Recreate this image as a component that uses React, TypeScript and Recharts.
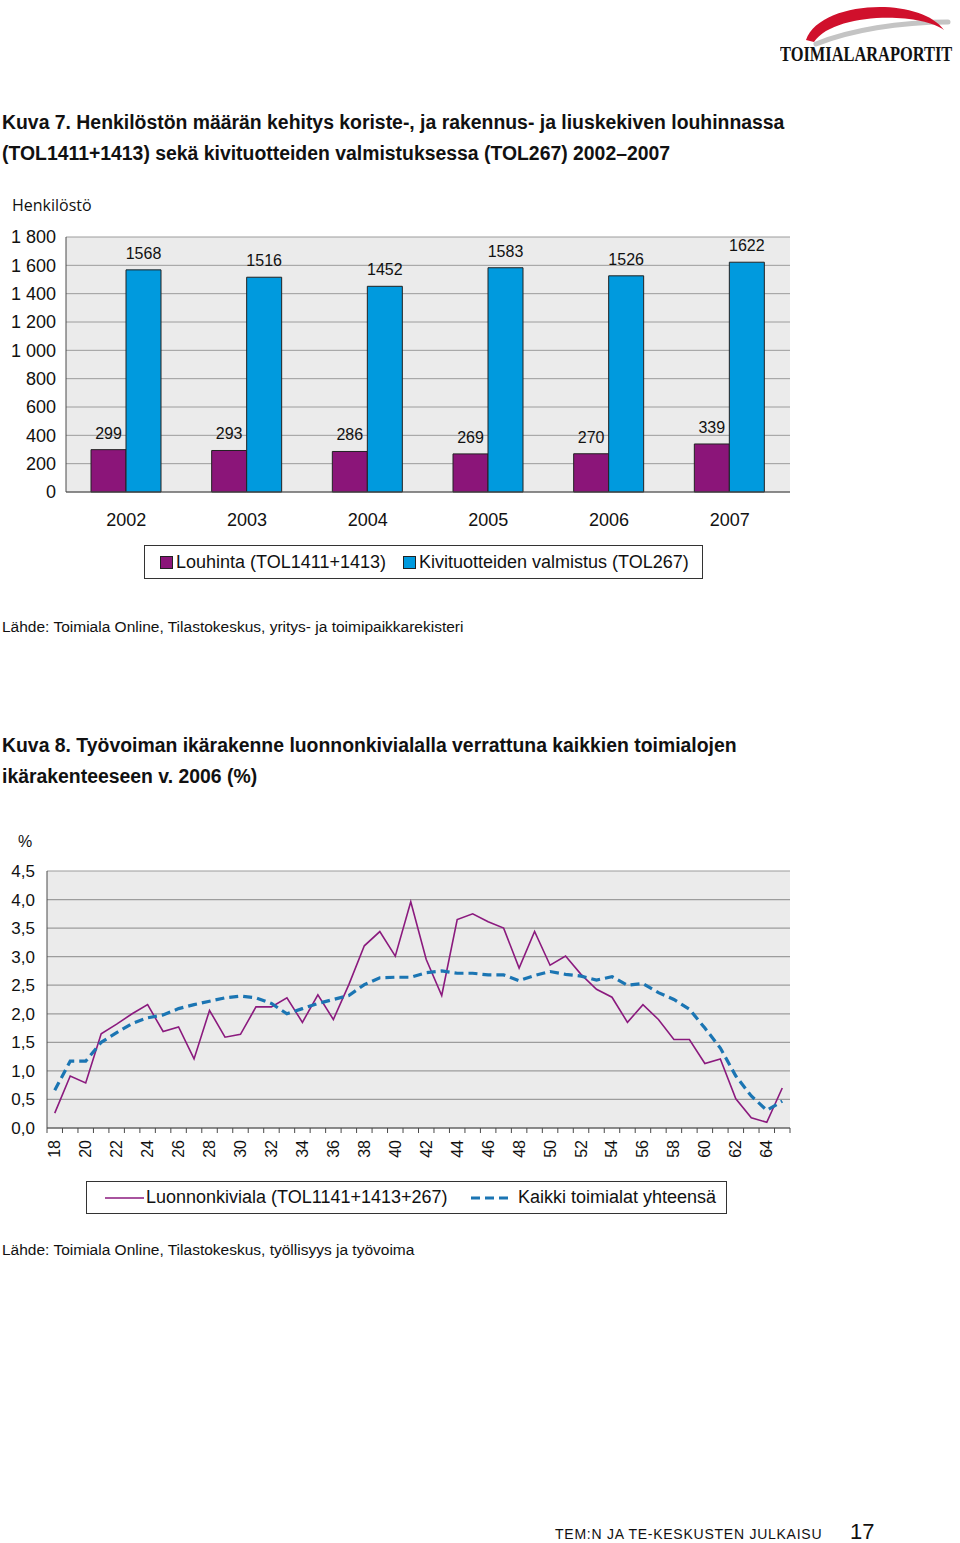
import React from 'react';
import {
  BarChart, Bar, XAxis, YAxis, CartesianGrid, LabelList,
  LineChart, Line,
} from 'recharts';

// ---------- Chart 1 data ----------
const years = ['2002', '2003', '2004', '2005', '2006', '2007'];
const louhinta = [299, 293, 286, 269, 270, 339];
const kivituotteet = [1568, 1516, 1452, 1583, 1526, 1622];
const yTicks1 = [0, 200, 400, 600, 800, 1000, 1200, 1400, 1600, 1800];

// ---------- Chart 2 data ----------
const ages = [
  18, 19, 20, 21, 22, 23, 24, 25, 26, 27, 28, 29, 30, 31, 32, 33,
  34, 35, 36, 37, 38, 39, 40, 41, 42, 43, 44, 45, 46, 47, 48, 49,
  50, 51, 52, 53, 54, 55, 56, 57, 58, 59, 60, 61, 62, 63, 64, 65,
];
const luonnonkiviala = [
  0.26, 0.91, 0.79, 1.65, 1.82, 2.0, 2.16, 1.69, 1.77, 1.21, 2.06, 1.59, 1.64, 2.12, 2.12, 2.28,
  1.85, 2.33, 1.9, 2.51, 3.19, 3.44, 3.01, 3.96, 2.95, 2.32, 3.65, 3.75, 3.61, 3.5, 2.8, 3.44,
  2.85, 3.01, 2.69, 2.43, 2.29, 1.85, 2.16, 1.9, 1.55, 1.55, 1.13, 1.21, 0.51, 0.18, 0.1, 0.7,
];
const kaikki = [
  0.66, 1.17, 1.17, 1.5, 1.67, 1.83, 1.93, 1.98, 2.09, 2.16, 2.22, 2.28, 2.31, 2.28, 2.18, 2.0,
  2.09, 2.18, 2.25, 2.32, 2.51, 2.63, 2.64, 2.64, 2.72, 2.75, 2.71, 2.71, 2.68, 2.68, 2.58, 2.67,
  2.74, 2.69, 2.66, 2.59, 2.65, 2.5, 2.53, 2.37, 2.25, 2.08, 1.75, 1.4, 0.91, 0.56, 0.31, 0.47,
];
const yTicks2 = [0, 0.5, 1, 1.5, 2, 2.5, 3, 3.5, 4, 4.5];

const bars1 = years.map((y, i) => ({ year: y, louhinta: louhinta[i], kivi: kivituotteet[i] }));
const lines2 = ages.map((a, i) => ({ age: a, luonnon: luonnonkiviala[i], kaikki: kaikki[i] }));

const FONT = '"Liberation Sans", Arial, Helvetica, sans-serif';
const PURPLE = '#8B1579';
const BLUE = '#009ADE';
const LINE_PURPLE = '#8B1A7E';
const LINE_BLUE = '#1B75B3';
const PLOT_BG = '#EBEBEB';
const GRID = '#9C9C9C';
const BORDER = '#4a4a4a';

const PLOT2_W = 743;
const BW2 = PLOT2_W / ages.length;

const fmtThousands = (v: number) => {
  const s = String(v);
  return s.length > 3 ? s.slice(0, s.length - 3) + ' ' + s.slice(-3) : s;
};
const fmtComma = (v: number) => v.toFixed(1).replace('.', ',');

const AgeTick = (props: any) => {
  const { x, y, payload, index } = props;
  const age = Number(payload.value);
  return (
    <g>
      <line x1={x - BW2 / 2} y1={y} x2={x - BW2 / 2} y2={y + 5} stroke={BORDER} strokeWidth={1} />
      {index === ages.length - 1 && (
        <line x1={x + BW2 / 2} y1={y} x2={x + BW2 / 2} y2={y + 5} stroke={BORDER} strokeWidth={1} />
      )}
      {age % 2 === 0 && age <= 64 && (
        <text
          transform={`translate(${x},${y + 12}) rotate(-90)`}
          textAnchor="end"
          dominantBaseline="central"
          fontSize={16}
          fontFamily={FONT}
          fill="#111"
        >
          {age}
        </text>
      )}
    </g>
  );
};

const abs = (left: number, top: number, extra: React.CSSProperties = {}): React.CSSProperties => ({
  position: 'absolute',
  left,
  top,
  whiteSpace: 'nowrap',
  fontFamily: FONT,
  color: '#111',
  ...extra,
});

const Logo = () => (
  <>
    <svg style={{ position: 'absolute', left: 770, top: 0 }} width={190} height={48}>
      <path d="M 46 44 C 80 30, 130 22, 178 22" stroke="#C4C4C4" strokeWidth={5} fill="none" strokeLinecap="round" />
      <path d="M 36 40 C 50 0, 150 -4, 174 30 C 150 12, 64 12, 44 42 Z" fill="#D0102C" />
    </svg>
    <div
      style={abs(780, 43, {
        fontFamily: '"Liberation Serif", "DejaVu Serif", serif',
        fontWeight: 'bold',
        fontSize: 20,
        lineHeight: '22px',
        transform: 'scaleX(0.82)',
        transformOrigin: 'left top',
      })}
    >
      TOIMIALARAPORTIT
    </div>
  </>
);

export default function App() {
  return (
    <div style={{ position: 'absolute', left: 0, top: 0, width: 960, height: 1543, background: '#fff', fontFamily: FONT }}>
      <Logo />

      <div style={abs(2, 106.5, { fontSize: 19.4, fontWeight: 'bold', lineHeight: '31px' })}>
        Kuva 7. Henkilöstön määrän kehitys koriste-, ja rakennus- ja liuskekiven louhinnassa
        <br />
        (TOL1411+1413) sekä kivituotteiden valmistuksessa (TOL267) 2002–2007
      </div>

      <div style={abs(12, 195, { fontSize: 16, lineHeight: '20px', fontFamily: '"Open Sans", sans-serif' })}>Henkilöstö</div>

      <div style={{ position: 'absolute', left: 0, top: 220 }}>
        <BarChart
          width={800}
          height={320}
          data={bars1}
          margin={{ top: 17, right: 10, bottom: 8, left: 0 }}
          barSize={35}
          barGap={0}
        >
          <CartesianGrid horizontal vertical={false} stroke={GRID} fill={PLOT_BG} strokeWidth={1} />
          <XAxis
            dataKey="year"
            height={40}
            tickLine={false}
            tickSize={0}
            tickMargin={21}
            axisLine={{ stroke: BORDER }}
            tick={{ fontSize: 18, fill: '#111', fontFamily: FONT }}
          />
          <XAxis xAxisId="top" dataKey="year" orientation="top" height={0} tick={false} tickLine={false} axisLine={{ stroke: BORDER }} />
          <YAxis
            domain={[0, 1800]}
            ticks={yTicks1}
            width={66}
            tickLine={false}
            tickSize={0}
            tickMargin={10}
            interval={0}
            axisLine={{ stroke: BORDER }}
            tickFormatter={fmtThousands}
            tick={{ fontSize: 18, fill: '#111', fontFamily: FONT }}
          />
          <YAxis yAxisId="right" orientation="right" width={0} tick={false} tickLine={false} axisLine={{ stroke: BORDER }} />
          <Bar dataKey="louhinta" fill={PURPLE} stroke="#222" strokeWidth={1} isAnimationActive={false}>
            <LabelList dataKey="louhinta" position="top" offset={11} fontSize={16} fill="#111" fontFamily={FONT} />
          </Bar>
          <Bar dataKey="kivi" fill={BLUE} stroke="#222" strokeWidth={1} isAnimationActive={false}>
            <LabelList dataKey="kivi" position="top" offset={11} fontSize={16} fill="#111" fontFamily={FONT} />
          </Bar>
        </BarChart>
      </div>

      <div style={{ position: 'absolute', left: 144, top: 545, width: 559, height: 34, boxSizing: 'border-box', border: '1px solid #333' }}>
        <div style={{ position: 'absolute', left: 15, top: 10, width: 11, height: 11, background: PURPLE, border: '1px solid #222' }} />
        <div style={abs(31, 6, { fontSize: 18, lineHeight: '20px' })}>Louhinta (TOL1411+1413)</div>
        <div style={{ position: 'absolute', left: 258, top: 10, width: 11, height: 11, background: BLUE, border: '1px solid #222' }} />
        <div style={abs(274, 6, { fontSize: 18, lineHeight: '20px' })}>Kivituotteiden valmistus (TOL267)</div>
      </div>

      <div style={abs(2, 617, { fontSize: 15.5, lineHeight: '20px' })}>
        Lähde: Toimiala Online, Tilastokeskus, yritys- ja toimipaikkarekisteri
      </div>

      <div style={abs(2, 729.5, { fontSize: 19.4, fontWeight: 'bold', lineHeight: '31px' })}>
        Kuva 8. Työvoiman ikärakenne luonnonkivialalla verrattuna kaikkien toimialojen
        <br />
        ikärakenteeseen v. 2006 (%)
      </div>

      <div style={abs(18, 832, { fontSize: 16, lineHeight: '20px' })}>%</div>

      <div style={{ position: 'absolute', left: 0, top: 850 }}>
        <LineChart
          width={800}
          height={330}
          data={lines2}
          margin={{ top: 21, right: 10, bottom: 0, left: 0 }}
        >
          <CartesianGrid horizontal vertical={false} stroke={GRID} fill={PLOT_BG} strokeWidth={1.2} />
          <XAxis
            dataKey="age"
            height={52}
            interval={0}
            padding={{ left: BW2 / 2, right: BW2 / 2 }}
            tickLine={false}
            tickSize={0}
            tickMargin={0}
            axisLine={{ stroke: BORDER }}
            tick={<AgeTick />}
          />
          <XAxis xAxisId="top" dataKey="age" orientation="top" height={0} tick={false} tickLine={false} axisLine={{ stroke: BORDER }} />
          <YAxis
            domain={[0, 4.5]}
            ticks={yTicks2}
            interval={0}
            width={47}
            tickLine={false}
            tickSize={0}
            tickMargin={12}
            axisLine={{ stroke: BORDER }}
            tickFormatter={fmtComma}
            tick={{ fontSize: 17, fill: '#111', fontFamily: FONT }}
          />
          <YAxis yAxisId="right" orientation="right" width={0} tick={false} tickLine={false} axisLine={{ stroke: BORDER }} />
          <Line type="linear" dataKey="luonnon" stroke={LINE_PURPLE} strokeWidth={1.6} dot={false} isAnimationActive={false} />
          <Line type="linear" dataKey="kaikki" stroke={LINE_BLUE} strokeWidth={3.2} strokeDasharray="9 5" dot={false} isAnimationActive={false} />
        </LineChart>
      </div>

      <div style={{ position: 'absolute', left: 86, top: 1181, width: 641, height: 33, boxSizing: 'border-box', border: '1px solid #333' }}>
        <svg style={{ position: 'absolute', left: 18, top: 14 }} width={40} height={4}>
          <line x1={0} y1={2} x2={39} y2={2} stroke={LINE_PURPLE} strokeWidth={1.6} />
        </svg>
        <div style={abs(59, 5, { fontSize: 18, lineHeight: '20px' })}>Luonnonkiviala (TOL1141+1413+267)</div>
        <svg style={{ position: 'absolute', left: 384, top: 13 }} width={42} height={6}>
          <line x1={0} y1={3} x2={40} y2={3} stroke={LINE_BLUE} strokeWidth={3.2} strokeDasharray="9 5" />
        </svg>
        <div style={abs(431, 5, { fontSize: 18, lineHeight: '20px' })}>Kaikki toimialat yhteensä</div>
      </div>

      <div style={abs(2, 1240, { fontSize: 15.5, lineHeight: '20px' })}>
        Lähde: Toimiala Online, Tilastokeskus, työllisyys ja työvoima
      </div>

      <div style={abs(555, 1525, { fontSize: 14, lineHeight: '18px', letterSpacing: '0.75px' })}>TEM:N JA TE-KESKUSTEN JULKAISU</div>
      <div style={abs(850, 1520, { fontSize: 22, lineHeight: '24px' })}>17</div>
    </div>
  );
}
